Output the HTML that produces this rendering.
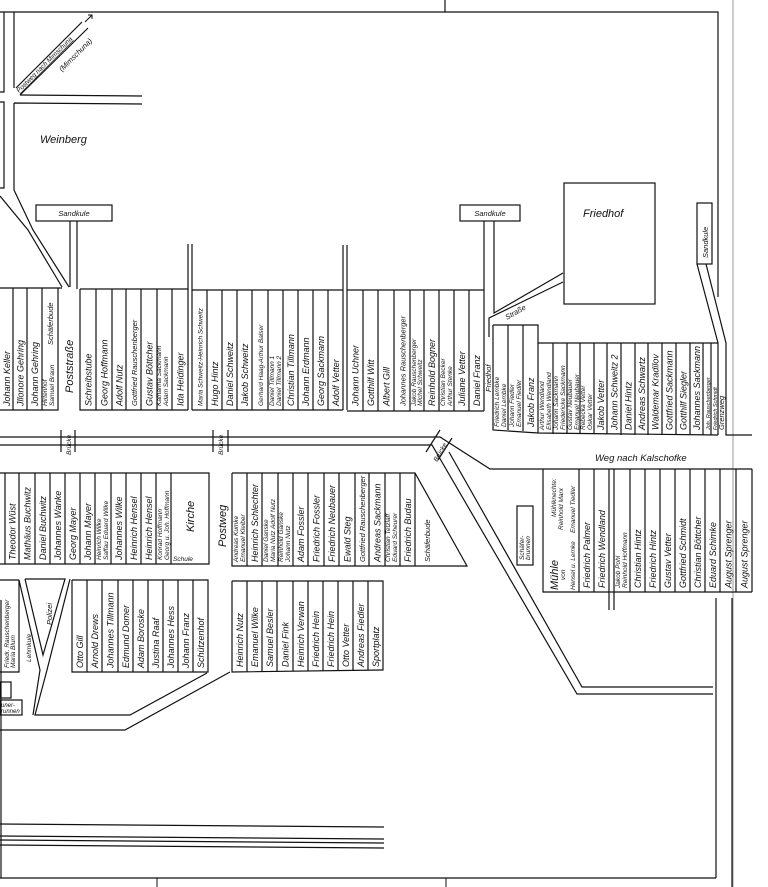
<!DOCTYPE html>
<html><head><meta charset="utf-8"><style>
html,body{margin:0;padding:0;background:#fff;}
svg{display:block;}
text{font-family:"Liberation Sans",sans-serif;font-style:italic;font-size:9px;fill:#111;}
.s{font-size:6.5px;}
.m{font-size:7.5px;}
.l{font-size:11px;}
</style></head><body>
<svg width="768" height="887" viewBox="0 0 768 887" xmlns="http://www.w3.org/2000/svg">
<g fill="none" stroke="#111" stroke-width="1.2">
<!-- frame -->
<path d="M0 12 L718 12 L718 297"/>
<path d="M445 0 L445 12"/>
<path d="M733 0 L733 887" stroke="#999" stroke-width="1"/>
<path d="M0 878 L716 878"/>
<path d="M157 878 L157 887 M446 878 L446 887" stroke-width="1"/>
<path d="M1 600 L1 878"/>
<!-- top-left roads -->
<path d="M4 12 L4 92 L0 92 M0 102 L4 102 L4 188 L0 188"/>
<path d="M14 12 L14 88 M20 95 L142 96 M14 103 L142 104 M14 103 L14 190"/>
<path d="M16 88 L82 22 M20 95 L88 28"/>
<path d="M85 22 L92 15 M88 15 L92 15 L92 19" stroke-width="1"/>
<path d="M0 196 L28 230 L62 287 M14 190 L33 230 L69 287"/>
<!-- Sandkule 1 -->
<rect x="36" y="205" width="76" height="16"/>
<path d="M70 221 L70 287 M77 221 L77 289"/>
<!-- block 1 -->
<path d="M0 288 L62 288 M58 288 L58 410 L0 410 M13 288 L13 410 M27 288 L27 410 M42 288 L42 410"/>
<!-- block 2 -->
<path d="M80 289 L188 289 M80 289 L80 410 L188 410 M96 289 L96 410 M112 289 L112 410 M126 289 L126 410 M141 289 L141 410 M157 289 L157 410 M172 289 L172 410"/>
<path d="M188 244 L188 410 M192 244 L192 410"/>
<!-- block 3 -->
<path d="M192 290 L343 290 M192 410 L343 410 M207 290 L207 410 M222 290 L222 410 M237 290 L237 410 M252 290 L252 410 M268 290 L268 410 M283 290 L283 410 M298 290 L298 410 M313 290 L313 410 M328 290 L328 410"/>
<path d="M343 245 L343 410 M347 245 L347 410"/>
<!-- block 4 -->
<path d="M347 290 L484 290 M347 411 L484 411 M363 290 L363 411 M378 290 L378 411 M394 290 L394 411 M410 290 L410 411 M424 290 L424 411 M439 290 L439 411 M454 290 L454 411 M469 290 L469 411"/>
<!-- Sandkule 2 -->
<rect x="460" y="205" width="60" height="16"/>
<path d="M484 221 L484 411 M494 221 L494 313 L563 273 M489 337 L489 318 L563 282"/>
<!-- Friedhof -->
<rect x="564" y="183" width="91" height="121"/>
<!-- Sandkule 3 + Grenzweg -->
<rect x="697" y="203" width="15" height="61"/>
<path d="M697 264 L718 343 L718 435 M706 264 L726 343 L726 435 L752 435"/>
<!-- block 5 -->
<path d="M493 325 L538 325 L538 343 L718 343 M493 325 L493 430 L538 433 L718 435"/>
<path d="M508 325 L508 430 M523 325 L523 431 M538 343 L538 433 M553 343 L553 434 M567 343 L567 434 M580 343 L580 434 M594 343 L594 434 M607 343 L607 434 M621 343 L621 435 M635 343 L635 435 M648 343 L648 435 M662 343 L662 435 M676 343 L676 435 M690 343 L690 435 M703 343 L703 435 M711 343 L711 435"/>
<!-- main road -->
<path d="M0 437 L440 437 L490 469 L752 469"/>
<path d="M0 445 L432 445 L577 694 L713 694"/>
<path d="M449 452 L582 687 L713 687"/>
<path d="M61 430 L61 452 M75 430 L75 452 M213 430 L213 452 M228 430 L228 452"/>
<path d="M426 452 L440 430 M438 460 L452 438"/>
<!-- block 7 -->
<path d="M0 473 L209 473 L209 564 L0 564 M5 473 L5 564 M19 473 L19 564 M35 473 L35 564 M50 473 L50 564 M65 473 L65 564 M80 473 L80 564 M95 473 L95 564 M111 473 L111 564 M126 473 L126 564 M141 473 L141 564 M156 473 L156 564 M171 473 L171 564"/>
<!-- block 6 -->
<path d="M232 473 L415 473 L467 566 L232 566 L232 473 M247 473 L247 566 M262 473 L262 566 M278 473 L278 566 M293 473 L293 566 M308 473 L308 566 M324 473 L324 566 M339 473 L339 566 M355 473 L355 566 M369 473 L369 566 M385 473 L385 566 M400 473 L400 566 M415 473 L415 566"/>
<!-- block 8 -->
<path d="M0 580 L19 580 M19 580 L19 672 L0 672"/>
<path d="M19 580 L40 670 L33 715 M25 579 L65 579 L43 655 L25 579 M70 579 L47 670 L35 715 L130 715 L207 673"/>
<path d="M0 730 L125 730 L230 672"/>
<rect x="0" y="682" width="11" height="16"/>
<rect x="0" y="700" width="22" height="15"/>
<!-- block 9 -->
<path d="M72 580 L208 580 L208 672 L72 672 L72 580 M87 580 L87 672 M102 580 L102 672 M118 580 L118 672 M133 580 L133 672 M148 580 L148 672 M163 580 L163 672 M178 580 L178 672 M193 580 L193 672"/>
<!-- block 10 -->
<path d="M232 581 L383 581 L383 670 L232 672 L232 581 M247 581 L247 672 M262 581 L262 671 M277 581 L277 671 M293 581 L293 671 M308 581 L308 671 M323 581 L323 671 M338 581 L338 671 M353 581 L353 671 M368 581 L368 670"/>
<!-- Schaeferbrunnen -->
<rect x="517" y="506" width="16" height="59"/>
<!-- Muehle block -->
<path d="M543 469 L543 592 L752 592 M752 469 L752 592 M579 469 L579 592 M594 469 L594 592 M609 469 L609 610 M614 469 L614 610 M630 469 L630 592 M645 469 L645 592 M660 469 L660 592 M675 469 L675 592 M690 469 L690 592 M705 469 L705 592 M720 469 L720 592 M736 469 L736 592"/>
<path d="M716 598 L716 878 M732 598 L732 887"/>
<!-- bottom lines -->
<path d="M0 824 L384 827 M0 836 L384 839 M0 840 L384 843 M0 845 L384 848"/>
</g>

<!-- labels -->
<text transform="translate(19,93) rotate(-45)" class="s" text-decoration="underline">Postweg nach Mimschuna</text>
<text transform="translate(62,72) rotate(-45)" class="m">(Mimschuna)</text>
<text x="40" y="143" class="l">Weinberg</text>
<text x="74" y="216" class="m" text-anchor="middle">Sandkule</text>
<text x="490" y="216" class="m" text-anchor="middle">Sandkule</text>
<text x="583" y="217" class="l">Friedhof</text>
<text transform="translate(708,258) rotate(-90)" class="m">Sandkule</text>
<text transform="translate(507,320) rotate(-30)" class="m">Straße</text>
<text transform="translate(491,392) rotate(-90)" class="m">Friedhof</text>
<text transform="translate(724,430) rotate(-90)" class="m">Grenzweg</text>
<text x="595" y="461" style="font-size:9.5px">Weg nach Kalschofke</text>
<text transform="translate(73,393) rotate(-90)" class="l">Poststraße</text>
<text transform="translate(226,547) rotate(-90)" class="l">Postweg</text>
<text transform="translate(71,455) rotate(-90)" class="s">Brücke</text>
<text transform="translate(223,455) rotate(-90)" class="s">Brücke</text>
<text transform="translate(437,462) rotate(-60)" class="s">Brücke</text>
<text transform="translate(52,625) rotate(-90)" class="m">Polizei</text>
<text transform="translate(31,662) rotate(-90)" class="s">Lehmkule</text>
<text transform="translate(9,668) rotate(-90)" class="s">Friedr. Rauschenberger</text>
<text transform="translate(15,668) rotate(-90)" class="s">Maria Blum</text>
<text x="1" y="707" style="font-size:6px">uner-</text>
<text x="1" y="713" style="font-size:6px">runnen</text>
<text transform="translate(524,560) rotate(-90)" class="s">Schäfer-</text>
<text transform="translate(530,560) rotate(-90)" class="s">brunnen</text>
<text transform="translate(430,562) rotate(-90)" class="m">Schäferbude</text>
<text transform="translate(53,345) rotate(-90)" class="m">Schäferbude</text>
<text transform="translate(194,532) rotate(-90)" class="l">Kirche</text>
<text x="173" y="561" class="s">Schule</text>

<!-- block 1 -->
<text transform="translate(10,406) rotate(-90)">Johann Keller</text>
<text transform="translate(23.5,406) rotate(-90)">Jllonore Gehring</text>
<text transform="translate(38,406) rotate(-90)">Johann Gehring</text>
<text transform="translate(47,406) rotate(-90)" class="s">Hirtenhof</text>
<text transform="translate(54,406) rotate(-90)" class="s">Samuel Braun</text>
<!-- block 2 -->
<text transform="translate(91.5,406) rotate(-90)">Schreibstube</text>
<text transform="translate(107.5,406) rotate(-90)">Georg Hoffmann</text>
<text transform="translate(122.5,406) rotate(-90)">Adolf Nutz</text>
<text transform="translate(137,406) rotate(-90)" class="m">Gottfried Rauschenberger</text>
<text transform="translate(152.5,406) rotate(-90)">Gustav Böttcher</text>
<text transform="translate(161,406) rotate(-90)" class="s">Katharina Sackmann</text>
<text transform="translate(168,406) rotate(-90)" class="s">Adam Sackmann</text>
<text transform="translate(183.5,406) rotate(-90)">Ida Heidinger</text>
<!-- block 3 -->
<text transform="translate(202.5,406) rotate(-90)" class="s">Maria Schweitz-Heinrich Schweitz</text>
<text transform="translate(218,406) rotate(-90)">Hugo Hintz</text>
<text transform="translate(233,406) rotate(-90)">Daniel Schweitz</text>
<text transform="translate(248,406) rotate(-90)">Jakob Schweitz</text>
<text transform="translate(263,406) rotate(-90)" class="s">Gerhard Haag-Arthur Balser</text>
<text transform="translate(274,406) rotate(-90)" class="s">Daniel Tillmann 1</text>
<text transform="translate(281,406) rotate(-90)" class="s">Daniel Tillmann 2</text>
<text transform="translate(294,406) rotate(-90)">Christian Tillmann</text>
<text transform="translate(309,406) rotate(-90)">Johann Erdmann</text>
<text transform="translate(324,406) rotate(-90)">Georg Sackmann</text>
<text transform="translate(339,406) rotate(-90)">Adolf Vetter</text>
<!-- block 4 -->
<text transform="translate(358.5,406) rotate(-90)">Johann Uchner</text>
<text transform="translate(374,406) rotate(-90)">Gotthilf Witt</text>
<text transform="translate(389.5,406) rotate(-90)">Albert Gill</text>
<text transform="translate(405.5,406) rotate(-90)" class="m">Johannes Rauschenberger</text>
<text transform="translate(416,406) rotate(-90)" class="s">Jakob Rauschenberger</text>
<text transform="translate(422,406) rotate(-90)" class="s">Michel Schweitz</text>
<text transform="translate(435,406) rotate(-90)">Reinhold Bogner</text>
<text transform="translate(445,406) rotate(-90)" class="s">Christian Becker</text>
<text transform="translate(452,406) rotate(-90)" class="s">Arthur Stenke</text>
<text transform="translate(465,406) rotate(-90)">Juliane Vetter</text>
<text transform="translate(480,406) rotate(-90)">Daniel Franz</text>
<!-- block 5 -->
<text transform="translate(499,427) rotate(-90)" class="s">Friedrich Lembke</text>
<text transform="translate(506,427) rotate(-90)" class="s">Daniel Lembke</text>
<text transform="translate(514,427) rotate(-90)" class="s">Johann Fiedler</text>
<text transform="translate(521,427) rotate(-90)" class="s">Emanuel Fiedler</text>
<text transform="translate(534,427) rotate(-90)">Jakob Franz</text>
<text transform="translate(544,430) rotate(-90)" class="s">Arthur Wendland</text>
<text transform="translate(551,430) rotate(-90)" class="s">Elisabeth Wendland</text>
<text transform="translate(558,430) rotate(-90)" class="s">Johann Sackmann</text>
<text transform="translate(565,430) rotate(-90)" class="s">Friedericke Sackmann</text>
<text transform="translate(572,430) rotate(-90)" class="s">Gustav Neubauer</text>
<text transform="translate(579,430) rotate(-90)" class="s">Emanuel Neubauer</text>
<text transform="translate(585,430) rotate(-90)" class="s">Rebecka Vetter</text>
<text transform="translate(592,430) rotate(-90)" class="s">Oskar Vetter</text>
<text transform="translate(604,430) rotate(-90)">Jakob Vetter</text>
<text transform="translate(617.5,430) rotate(-90)">Johann Schweitz 2</text>
<text transform="translate(631.5,430) rotate(-90)">Daniel Hintz</text>
<text transform="translate(645,430) rotate(-90)">Andreas Schwartz</text>
<text transform="translate(658.5,430) rotate(-90)">Waldemar Kradilov</text>
<text transform="translate(672.5,430) rotate(-90)">Gottfried Sackmann</text>
<text transform="translate(686.5,430) rotate(-90)">Gotthilf Siegler</text>
<text transform="translate(700,430) rotate(-90)">Johannes Sackmann</text>
<text transform="translate(710,430) rotate(-90)" style="font-size:5.5px">Joh. Rauschenberger</text>
<text transform="translate(717,430) rotate(-90)" style="font-size:5.5px">Friedrich Schmidt</text>
<!-- block 7 -->
<text transform="translate(15.5,560) rotate(-90)">Theodor Wüst</text>
<text transform="translate(30.5,560) rotate(-90)">Mathäus Buchwitz</text>
<text transform="translate(46,560) rotate(-90)">Daniel Buchwitz</text>
<text transform="translate(61,560) rotate(-90)">Johannes Wanke</text>
<text transform="translate(76,560) rotate(-90)">Georg Mayer</text>
<text transform="translate(91,560) rotate(-90)">Johann Mayer</text>
<text transform="translate(101,560) rotate(-90)" class="s">Heinrich Wilke</text>
<text transform="translate(108,560) rotate(-90)" class="s">Saffau Eduard Wilke</text>
<text transform="translate(122,560) rotate(-90)">Johannes Wilke</text>
<text transform="translate(137,560) rotate(-90)">Heinrich Hensel</text>
<text transform="translate(152,560) rotate(-90)">Heinrich Hensel</text>
<text transform="translate(162,560) rotate(-90)" class="s">Konrad Hoffmann</text>
<text transform="translate(169,560) rotate(-90)" class="s">Georg u. Joh. Hoffmann</text>
<!-- block 6 -->
<text transform="translate(238,562) rotate(-90)" class="s">Andreas Kumke</text>
<text transform="translate(245,562) rotate(-90)" class="s">Emanuel Kleiber</text>
<text transform="translate(258,562) rotate(-90)">Heinrich Schlechter</text>
<text transform="translate(268,562) rotate(-90)" class="s">Daniel Ganske</text>
<text transform="translate(275,562) rotate(-90)" class="s">Maria Nutz Adolf Nutz</text>
<text transform="translate(283,562) rotate(-90)" class="s">Reinhold Ganske</text>
<text transform="translate(290,562) rotate(-90)" class="s">Johann Nutz</text>
<text transform="translate(304,562) rotate(-90)">Adam Fossler</text>
<text transform="translate(319.5,562) rotate(-90)">Friedrich Fossler</text>
<text transform="translate(335,562) rotate(-90)">Friedrich Neubauer</text>
<text transform="translate(350.5,562) rotate(-90)">Ewald Steg</text>
<text transform="translate(365,562) rotate(-90)" class="m">Gottfried Rauschenberger</text>
<text transform="translate(380.5,562) rotate(-90)">Andreas Sackmann</text>
<text transform="translate(390,562) rotate(-90)" class="s">Christian Tetzlaff</text>
<text transform="translate(397,562) rotate(-90)" class="s">Eduard Scheurer</text>
<text transform="translate(411,562) rotate(-90)">Friedrich Budau</text>
<!-- block 9 -->
<text transform="translate(83,668) rotate(-90)">Otto Gill</text>
<text transform="translate(98,668) rotate(-90)">Arnold Drews</text>
<text transform="translate(113.5,668) rotate(-90)">Johannes Tillmann</text>
<text transform="translate(129,668) rotate(-90)">Edmund Domer</text>
<text transform="translate(144,668) rotate(-90)">Adam Boroske</text>
<text transform="translate(159,668) rotate(-90)">Justina Raaf</text>
<text transform="translate(174,668) rotate(-90)">Johannes Hess</text>
<text transform="translate(189,668) rotate(-90)">Johann Franz</text>
<text transform="translate(204,668) rotate(-90)">Schützenhof</text>
<!-- block 10 -->
<text transform="translate(243,667) rotate(-90)">Heinrich Nutz</text>
<text transform="translate(258,667) rotate(-90)">Emanuel Wilke</text>
<text transform="translate(273,667) rotate(-90)">Samuel Besler</text>
<text transform="translate(288.5,667) rotate(-90)">Daniel Fink</text>
<text transform="translate(304,667) rotate(-90)">Heinrich Verwan</text>
<text transform="translate(319,667) rotate(-90)">Friedrich Hein</text>
<text transform="translate(334,667) rotate(-90)">Friedrich Hein</text>
<text transform="translate(349,667) rotate(-90)">Otto Vetter</text>
<text transform="translate(364,667) rotate(-90)">Andreas Fiedler</text>
<text transform="translate(379,667) rotate(-90)">Sportplatz</text>
<!-- Muehle block -->
<text transform="translate(556,517) rotate(-90)" class="s">Mühlknechte:</text>
<text transform="translate(563,530) rotate(-90)" class="s">Reinhold Marx</text>
<text transform="translate(575,533) rotate(-90)" class="s">Emanuel Tiedler</text>
<text transform="translate(558,590) rotate(-90)" class="l">Mühle</text>
<text transform="translate(565,580) rotate(-90)" class="s">von</text>
<text transform="translate(575,590) rotate(-90)" class="s">Hensel u. Lemke</text>
<text transform="translate(590,588) rotate(-90)">Friedrich Palmer</text>
<text transform="translate(605,588) rotate(-90)">Friedrich Wendland</text>
<text transform="translate(620,588) rotate(-90)" class="s">Jakob Pohl</text>
<text transform="translate(627,588) rotate(-90)" class="s">Reinhold Hoffmann</text>
<text transform="translate(641,588) rotate(-90)">Christian Hintz</text>
<text transform="translate(656,588) rotate(-90)">Friedrich Hintz</text>
<text transform="translate(671,588) rotate(-90)">Gustav Vetter</text>
<text transform="translate(686,588) rotate(-90)">Gottfried Schmidt</text>
<text transform="translate(701,588) rotate(-90)">Christian Böttcher</text>
<text transform="translate(716,588) rotate(-90)">Eduard Schimke</text>
<text transform="translate(731.5,588) rotate(-90)">August Sprenger</text>
<text transform="translate(747.5,588) rotate(-90)">August Sprenger</text>
</svg>
</body></html>
